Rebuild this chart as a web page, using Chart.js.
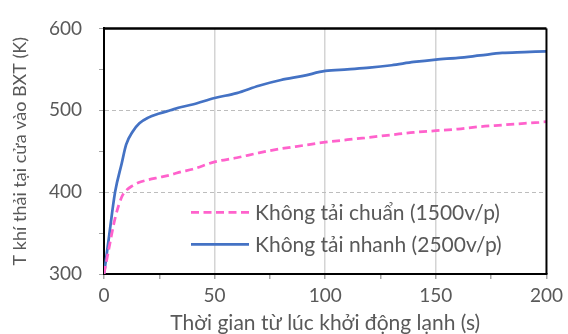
<!DOCTYPE html>
<html>
<head>
<meta charset="utf-8">
<script src="https://cdn.jsdelivr.net/npm/chart.js@4/dist/chart.umd.min.js"></script>
<style>
  html, body { margin: 0; padding: 0; background: #ffffff; }
  #chart { display: block; }
</style>
</head>
<body>
<canvas id="chart" width="568" height="334"></canvas>
<script>
// Time since cold start (s)
const times = [0, 2, 5, 8, 10, 13, 16, 20, 25, 30, 35, 40, 50, 60, 70, 80, 90, 100, 110, 120, 130, 140, 150, 160, 170, 180, 190, 200];
// Exhaust temperature at catalytic converter inlet (K), standard idle 1500 rpm
const standardIdle = [300, 328, 368, 394, 402, 408, 412, 415, 418, 421, 425, 428, 437, 442, 448, 453, 457, 461, 464, 467, 470, 473, 475, 477, 480, 482, 484, 486];
// Exhaust temperature at catalytic converter inlet (K), fast idle 2500 rpm
const fastIdle = [300, 340, 400, 435, 458, 474, 484, 491, 496, 500, 504, 507, 515, 521, 530, 537, 542, 548, 550, 552, 555, 559, 562, 564, 567, 570, 571, 572];

const seriesLabels = ['Không tải chuẩn (1500v/p)', 'Không tải nhanh (2500v/p)'];
const xTickLabels = [0, 50, 100, 150, 200];
const yTickLabels = [300, 400, 500, 600];
const xGridValues = [50, 100, 150];
const yGridValues = [400, 500];

const FONT = "Lato, 'Noto Sans', sans-serif";
const TEXT = '#595959';
const CLEAR = 'rgba(0,0,0,0)';

const toPoints = vals => times.map((t, i) => ({ x: t, y: vals[i] }));

// Legend drawn inside the plot area, lower right
const innerLegend = {
  id: 'innerLegend',
  afterDraw(chart) {
    const { ctx, chartArea } = chart;
    const x0 = chartArea.left + 87;
    const rows = [chartArea.top + 184, chartArea.top + 216];
    ctx.save();
    chart.data.datasets.forEach((ds, i) => {
      const y = rows[i];
      ctx.beginPath();
      ctx.lineWidth = ds.borderWidth;
      ctx.strokeStyle = ds.borderColor;
      ctx.setLineDash(ds.borderDash || []);
      ctx.moveTo(x0, y);
      ctx.lineTo(x0 + 58, y);
      ctx.stroke();
      ctx.setLineDash([]);
      ctx.fillStyle = TEXT;
      ctx.font = '21px ' + FONT;
      ctx.textBaseline = 'middle';
      ctx.textAlign = 'left';
      ctx.fillText(ds.label, x0 + 64, y + 1);
    });
    ctx.restore();
  }
};

// Closes the plot box on the top and right sides
const plotFrame = {
  id: 'plotFrame',
  afterDraw(chart) {
    const { ctx, chartArea: a } = chart;
    ctx.save();
    ctx.strokeStyle = '#000000';
    ctx.lineWidth = 2.5;
    ctx.beginPath();
    ctx.moveTo(a.left, a.top);
    ctx.lineTo(a.right, a.top);
    ctx.stroke();
    ctx.lineWidth = 2;
    ctx.beginPath();
    ctx.moveTo(a.right, a.top);
    ctx.lineTo(a.right, a.bottom);
    ctx.stroke();
    ctx.restore();
  }
};

new Chart(document.getElementById('chart'), {
  type: 'line',
  data: {
    datasets: [
      {
        label: seriesLabels[0],
        data: toPoints(standardIdle),
        borderColor: '#ff62cc',
        borderWidth: 2.75,
        borderDash: [8, 4.5],
        pointRadius: 0,
        cubicInterpolationMode: 'monotone',
        fill: false
      },
      {
        label: seriesLabels[1],
        data: toPoints(fastIdle),
        borderColor: '#4472c4',
        borderWidth: 2.75,
        pointRadius: 0,
        cubicInterpolationMode: 'monotone',
        fill: false
      }
    ]
  },
  options: {
    responsive: false,
    devicePixelRatio: 1,
    animation: false,
    layout: { padding: { left: 0, right: 19, top: 21, bottom: 0 } },
    plugins: {
      legend: { display: false },
      tooltip: { enabled: false }
    },
    scales: {
      x: {
        type: 'linear',
        min: 0,
        max: 200,
        afterFit: s => { s.height = 60; },
        ticks: {
          stepSize: 25,
          autoSkip: false,
          maxRotation: 0,
          color: TEXT,
          padding: 5,
          font: { family: FONT, size: 19 },
          callback: v => xTickLabels.includes(v) ? String(v) : ''
        },
        grid: {
          color: c => xGridValues.includes(c.tick && c.tick.value) ? '#d4d4d4' : CLEAR,
          lineWidth: 1.5,
          tickColor: '#a6a6a6',
          tickLength: 5
        },
        border: { color: '#000000', width: 2 },
        title: {
          display: true,
          text: 'Thời gian từ lúc khởi động lạnh (s)',
          color: TEXT,
          font: { family: FONT, size: 21 },
          padding: { top: 0, bottom: -2 }
        }
      },
      y: {
        type: 'linear',
        min: 300,
        max: 600,
        afterFit: s => { s.width = 104; },
        ticks: {
          stepSize: 50,
          autoSkip: false,
          color: TEXT,
          padding: 17,
          font: { family: FONT, size: 19 },
          callback: v => yTickLabels.includes(v) ? String(v) : ''
        },
        grid: {
          color: c => yGridValues.includes(c.tick && c.tick.value) ? '#bdbdbd' : CLEAR,
          lineWidth: 1,
          tickColor: '#a6a6a6',
          tickLength: 5
        },
        border: { color: '#000000', width: 2, dash: [4, 3] },
        title: {
          display: true,
          text: 'T khí thải tại cửa vào BXT (K)',
          color: TEXT,
          font: { family: FONT, size: 18 },
          padding: { top: 9, bottom: 0 }
        }
      }
    }
  },
  plugins: [innerLegend, plotFrame]
});
</script>
</body>
</html>
